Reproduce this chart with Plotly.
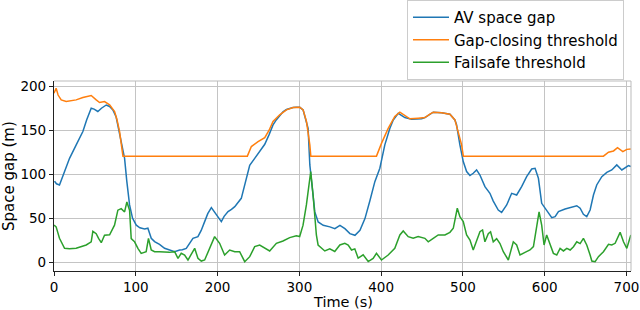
import plotly.graph_objects as go

# ---- data ----
t_av = [0.6, 3, 6.7, 12, 19, 27, 35.3, 40, 45.5, 49, 53.6, 58, 63.9, 68, 72, 76, 80, 83, 86.3, 89, 92.4, 96, 100.6, 105,
        110.8, 114.8, 118.9, 123, 129, 135.2, 141, 147.5, 153.6, 157, 161.7, 166, 169.9, 176, 180, 184.2, 188,
        192.4, 198.5, 204.6, 208, 212.8, 217, 221, 229, 235.2, 239.3, 245.4, 251.6, 257.7, 263, 267.8, 272,
        276, 280, 284.2, 288, 292.3, 296, 300.5, 304.6, 308.7, 310.7, 312.8, 314.8, 316.5, 318.9, 323, 329.2, 337.3,
        343.4, 349.6, 355.7, 361.8, 368, 374.1, 380.2, 386.4, 392.3, 398.4, 404.5, 410.7, 414.8, 420.9, 425,
        429, 437.2, 449.4, 453.5, 459.6, 463.7, 473.9, 484.1, 490.2, 492.2, 496.3, 500.4, 504.5, 508.6,
        512.6, 516.7, 520.8, 526.9, 533, 537.1, 543.2, 547.3, 553.5, 559.6, 565.7, 571.8, 577.9, 584.1,
        588.2, 592.3, 596.3, 600.4, 604.5, 608.6, 612.7, 616.8, 624.9, 633.1, 639.2, 643.3, 647.3, 651.4,
        655.5, 659.6, 663.6, 669.8, 675.9, 682, 688.1, 694.3, 698.3, 702.4, 705.3]
v_av = [92, 89, 87.7, 100, 118, 133, 148.5, 162, 175, 174, 171.3, 175, 178.7, 177, 173, 165, 148, 133, 118, 92, 65, 50, 42, 39,
        37.7, 38.5, 27, 23.2, 20, 15.6, 13.5, 11.8, 13.7, 14, 15.6, 22, 27, 28.9, 36, 46, 55,
        61.9, 53.6, 46, 52, 57.4, 60, 63, 72.5, 95, 110, 118, 125.7, 134, 145, 156, 162,
        167, 171, 173.5, 175, 175.8, 176, 176, 173, 160, 152, 110.5, 95, 75, 57, 45.6, 41.8, 40,
        38, 41.8, 38, 32.3, 30.4, 36.1, 49.4, 70.3, 91.5, 106.7, 133.3, 152.3, 161.7, 169.3, 167,
        164.4, 162.5, 163, 164.4, 168.2, 170.5, 170, 168.2, 161.7, 156.3, 133.3, 114.3, 103, 98.4,
        101, 104.8, 99, 85.8, 78.2, 69.4, 59.2, 56.5, 64.9, 78.2, 76.3, 85.8, 97.2, 105.9,
        106.7, 95.3, 66.8, 61, 55.4, 50.4, 51.6, 57.4, 60.4, 63, 64.1, 61.2, 54.3, 51.6,
        59.2, 76.3, 87.7, 97.2, 102, 104.8, 110.5, 104.8, 107.4, 109.7, 108.6]

t_gap = [0, 2.6, 5, 8.8, 14.9, 27.1, 35.3, 45.5, 51.6, 55.7, 61.8, 68, 74.1, 77, 80.2, 84.3,
         236.4, 241.3, 249.5, 257.7, 263, 267.8, 276, 284.2, 292.3, 300.5, 304.6, 308.7, 312.8, 314,
         394.3, 400.4, 408.6, 416.7, 422.9, 429, 435.1, 445.3, 453.5, 459.6, 463.7, 473.9, 484.1, 490.2,
         494.3, 498.4, 500.5,
         671.8, 678, 684.1, 689, 695.5, 700.4, 705.3]
v_gap = [192, 197.8, 190, 184.5, 182.6, 184.5, 187.2, 189.5, 184.5, 181.5, 182.6, 178.9, 171.3, 162, 148.5, 120.5,
         120.5, 131.4, 137, 141.6, 150, 159.9, 167.5, 173.2, 175.8, 176.2, 173.2, 159.9, 133.3, 120.5,
         120.5, 135, 152, 165.6, 170.5, 166.4, 163, 163.7, 164.4, 168.2, 170.5, 170, 168.2, 161.7,
         148.5, 133.3, 120.5,
         120.5, 124.9, 126.4, 130.2, 125.6, 128.2, 128.6]

t_fs = [0, 2.6, 6.7, 12.9, 19, 27.1, 39.4, 45.5, 47.5, 51.6, 54.5, 57.8, 61.8, 68, 74, 78.1, 82.2, 86.3, 89.1,
        92.4, 94.4, 98.5, 102.6, 106.6, 112.7, 115.5, 118.9, 123, 129, 135.2, 141, 147.5, 151.6, 155.6,
        159.7, 163.8, 168, 172, 176, 180.1, 184.2, 190.3, 196.4, 202.5, 208.6, 214.8, 221, 227, 233.2,
        239.3, 245.4, 251.5, 257.6, 263.7, 271.9, 280, 288.2, 296.3, 300.4, 304.5, 308.6, 312.7, 313.9,
        316.8, 320.8, 322.9, 327, 331.1, 337.2, 343.3, 349.5, 355.6, 359.7, 363.8, 367.8, 371.9, 378,
        384.2, 390.2, 394.3, 400.4, 408.6, 416.7, 422.9, 427, 433.1, 439.2, 445.3, 453.5, 457.6, 463.7,
        469.8, 478, 484.1, 488.2, 491, 493.1, 496.3, 500.4, 504.5, 508.6, 512.6, 516.7, 520.8, 524,
        526.9, 531, 533.8, 537.1, 541.2, 545.3, 549.4, 555.5, 559.6, 561.6, 565.7, 569.8, 575.9, 582,
        586.2, 590.3, 593.1, 596.3, 599.2, 602.4, 606.5, 610.6, 614.7, 618.8, 622.9, 627, 631.1, 635.2,
        639.2, 643.3, 647.3, 651.4, 655.5, 657.6, 661.6, 665.7, 671.8, 678, 682, 686.1, 692.2, 696.3,
        700.4, 705.3]
v_fs = [42, 40, 27, 15.6, 15, 15.6, 19.4, 23, 35, 32.3, 27, 22, 30.4, 31, 42, 59, 60.8, 57, 68.3,
        59, 26.6, 23, 15.6, 9.9, 11.8, 27, 13.7, 11.8, 11.8, 11, 11, 11.8, 4.2, 10,
        8, 2.3, 9, 15.6, 4.2, 1.1, 2.3, 15.6, 28.9, 21.3, 8, 13.7, 11.8, 11.8, 0.4,
        6.1, 17.5, 19.4, 15.6, 12.6, 21.3, 24, 27.8, 30, 29, 42, 65, 99, 103,
        76, 30.8, 19.4, 15.6, 12.6, 15, 12, 19.4, 21.3, 19.4, 13.7, 15, 4.4, 8.2,
        0.6, 4.2, 9.9, 2.3, 8, 15.6, 30.8, 35.3, 28.9, 27, 28.9, 27, 23, 27,
        30.8, 30.8, 33.8, 38.4, 53.6, 61.2, 51.6, 46, 30.8, 25, 13.7, 23, 34.5, 36.5,
        23, 32.3, 34.5, 23, 26.6, 21, 11.8, 2.3, 15.6, 23, 19.4, 8, 11, 13.7,
        17.5, 42, 57.1, 42, 19.4, 30.8, 19.4, 9.9, 8, 15.6, 12.6, 15.6, 13.7, 17.5,
        23, 21, 27, 19.4, 8, 1.1, 0.4, 6.1, 11.8, 20.1, 19.4, 21.3, 33.8, 23,
        15.6, 30.8]

names = ["AV space gap", "Gap-closing threshold", "Failsafe threshold"]
colors = ["#1f77b4", "#ff7f0e", "#2ca02c"]
x_ticks = [0, 100, 200, 300, 400, 500, 600, 700]
y_ticks = [0, 50, 100, 150, 200]
x_title = "Time (s)"
y_title = "Space gap (m)"

FONT = "DejaVu Sans"
fig = go.Figure()
for i, (tx, vy) in enumerate([(t_av, v_av), (t_gap, v_gap), (t_fs, v_fs)]):
    fig.add_trace(go.Scatter(x=tx, y=vy, mode="lines", name=names[i],
                             line=dict(color=colors[i], width=1.5)))

axis_common = dict(showgrid=True, gridcolor="#c4c4c4", gridwidth=1, zeroline=False,
                   showline=True, linecolor="#222222", linewidth=1.2,
                   ticks="outside", ticklen=4, tickcolor="#222222", automargin=False,
                   tickfont=dict(family=FONT, size=13.5, color="#000000"))

# plot area: x 54..631, y 81..271 px ; paper spans y 0..271
PAPER_H = 310 - 0 - 39
Y_TOP = (271 - 81) / PAPER_H

fig.update_layout(
    width=640, height=310,
    margin=dict(l=54, r=9, t=0, b=39),
    paper_bgcolor="white", plot_bgcolor="white",
    font=dict(family=FONT, size=14, color="#000000"),
    xaxis=dict(range=[0, 705.5], tickvals=x_ticks, **axis_common),
    yaxis=dict(range=[-10.2, 206], tickvals=y_ticks, domain=[0, Y_TOP], **axis_common),
    legend=dict(x=(407 - 54) / 577, y=1, xanchor="left", yanchor="top",
                bordercolor="#cccccc", borderwidth=1, bgcolor="white",
                font=dict(family=FONT, size=15), tracegroupgap=0,
                itemwidth=36),
    showlegend=True,
    annotations=[
        dict(text=x_title, xref="x domain", yref="y domain", x=0.5, y=0,
             xanchor="center", yanchor="middle", yshift=-30.5, showarrow=False,
             font=dict(family=FONT, size=14.5, color="#000000")),
        dict(text=y_title, xref="x domain", yref="y domain", x=0, y=0.5,
             xanchor="center", yanchor="middle", xshift=-45, textangle=-90, showarrow=False,
             font=dict(family=FONT, size=15, color="#000000")),
    ],
    shapes=[
        dict(type="line", xref="x domain", yref="y domain", x0=0, x1=1, y0=1, y1=1,
             line=dict(color="#bbbbbb", width=1)),
        dict(type="line", xref="x domain", yref="y domain", x0=1, x1=1, y0=0, y1=1,
             line=dict(color="#bbbbbb", width=1)),
    ],
)

fig.write_html("out.html", config={"displayModeBar": False},
               post_script="document.body.style.margin='0';document.body.style.overflow='hidden';")
